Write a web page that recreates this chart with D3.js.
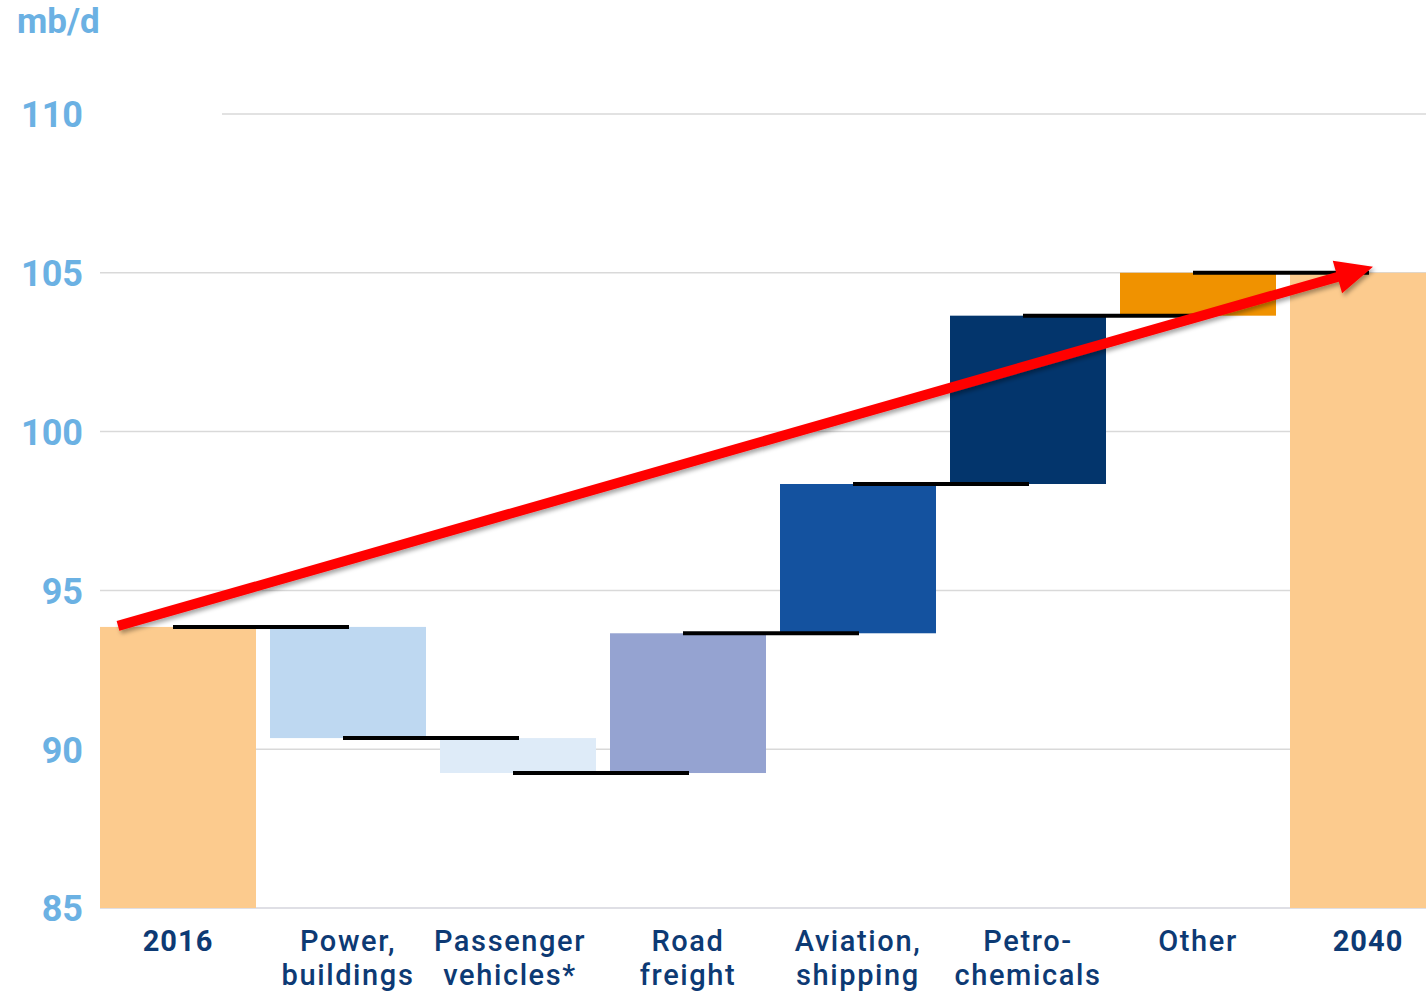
<!DOCTYPE html>
<html>
<head>
<meta charset="utf-8">
<script src="https://cdn.jsdelivr.net/npm/d3@7"></script>
<style>
  html, body { margin: 0; padding: 0; background: #fff; }
  svg { display: block; }
</style>
</head>
<body>
<svg id="chart" width="1426" height="995"></svg>
<script>
// Oil demand change by sector, 2016 -> 2040 (mb/d)
const categories = ["2016", "Power, buildings", "Passenger vehicles*", "Road freight",
                    "Aviation, shipping", "Petro-chemicals", "Other", "2040"];
const labelLines = [["2016"], ["Power,", "buildings"], ["Passenger", "vehicles*"], ["Road", "freight"],
                    ["Aviation,", "shipping"], ["Petro-", "chemicals"], ["Other"], ["2040"]];
const startTotal = 93.85;
const deltas = [-3.5, -1.1, 4.4, 4.7, 5.3, 1.35];
const endTotal = 105.0;
const barColors = ["#FCCB8E", "#BED8F1", "#DEEBF8", "#95A3D1", "#14529F", "#03356C", "#F09200", "#FCCB8E"];
const yTicks = [85, 90, 95, 100, 105, 110];
const unitLabel = "mb/d";

// Build the waterfall segments
const segments = [];
segments.push({ cat: categories[0], y0: 85, y1: startTotal, level: startTotal, color: barColors[0] });
let running = startTotal;
deltas.forEach((d, i) => {
  const next = running + d;
  segments.push({ cat: categories[i + 1], y0: running, y1: next, level: next, color: barColors[i + 1] });
  running = next;
});
segments.push({ cat: categories[7], y0: 85, y1: endTotal, level: endTotal, color: barColors[7] });

const svg = d3.select("#chart");
const W = 1426, H = 995;

const x = d3.scaleBand()
  .domain(categories)
  .range([93, 1453])
  .paddingInner(14 / 170)
  .paddingOuter(7 / 170);

const y = d3.scaleLinear().domain([85, 110]).range([908, 114]);

const labelBlue = "#6BB1E3";
const navy = "#0D3A74";

// Gridlines
const grid = svg.append("g").attr("class", "grid");
grid.selectAll("line")
  .data(yTicks.filter(t => t > 85))
  .join("line")
  .attr("x1", d => d === 110 ? 222 : 100)
  .attr("x2", W)
  .attr("y1", d => y(d))
  .attr("y2", d => y(d))
  .attr("stroke", "#D9D9D9")
  .attr("stroke-width", 1.5);

// Baseline
svg.append("line")
  .attr("x1", 100).attr("x2", W)
  .attr("y1", y(85)).attr("y2", y(85))
  .attr("stroke", "#D4D4DC").attr("stroke-width", 1.5);

// Y axis labels
const yAxis = d3.axisLeft(y).tickValues(yTicks).tickSize(0).tickPadding(0);
const yG = svg.append("g").attr("transform", "translate(83,0)").call(yAxis);
yG.select(".domain").remove();
yG.selectAll("text")
  .attr("fill", labelBlue)
  .attr("font-family", "Roboto, 'DejaVu Sans', sans-serif")
  .attr("font-weight", 700)
  .attr("font-size", 36)
  .attr("dy", "0.36em");

svg.append("text")
  .attr("x", 17).attr("y", 33)
  .attr("fill", labelBlue)
  .attr("font-family", "Roboto, 'DejaVu Sans', sans-serif")
  .attr("font-weight", 700)
  .attr("font-size", 35)
  .text(unitLabel);

// Bars
svg.append("g").selectAll("rect")
  .data(segments)
  .join("rect")
  .attr("x", d => x(d.cat))
  .attr("width", x.bandwidth())
  .attr("y", d => y(Math.max(d.y0, d.y1)))
  .attr("height", d => Math.abs(y(d.y0) - y(d.y1)))
  .attr("fill", d => d.color);

// Connectors between consecutive bars
const connectors = segments.slice(0, -1).map((s, i) => ({
  from: s.cat, to: segments[i + 1].cat, level: s.level
}));
svg.append("g").selectAll("line")
  .data(connectors)
  .join("line")
  .attr("x1", d => x(d.from) + x.bandwidth() / 2 - 5)
  .attr("x2", d => x(d.to) + x.bandwidth() / 2 + 1)
  .attr("y1", d => y(d.level))
  .attr("y2", d => y(d.level))
  .attr("stroke", "#000")
  .attr("stroke-width", 4);

// Trend arrow from the 2016 total to the 2040 total
const defs = svg.append("defs");
const f = defs.append("filter").attr("id", "shadow")
  .attr("x", "-5%").attr("y", "-20%").attr("width", "110%").attr("height", "140%");
f.append("feDropShadow")
  .attr("dx", 2).attr("dy", 3).attr("stdDeviation", 2)
  .attr("flood-color", "#000").attr("flood-opacity", 0.35);

const ax0 = x(categories[0]) + 18, ay0 = y(startTotal) - 1;
const ax1 = x(categories[7]) + x.bandwidth() / 2 + 5, ay1 = y(endTotal) - 6;
const len = Math.hypot(ax1 - ax0, ay1 - ay0);
const ux = (ax1 - ax0) / len, uy = (ay1 - ay0) / len;
const nx = -uy, ny = ux;
const headLen = 37, headHalf = 17, shaftHalf = 5;
const bx = ax1 - ux * headLen, by = ay1 - uy * headLen;
const arrowPts = [
  [ax0 + nx * shaftHalf, ay0 + ny * shaftHalf],
  [bx + nx * shaftHalf, by + ny * shaftHalf],
  [bx + nx * headHalf, by + ny * headHalf],
  [ax1, ay1],
  [bx - nx * headHalf, by - ny * headHalf],
  [bx - nx * shaftHalf, by - ny * shaftHalf],
  [ax0 - nx * shaftHalf, ay0 - ny * shaftHalf]
];
svg.append("path")
  .attr("d", d3.line()(arrowPts) + "Z")
  .attr("fill", "#FF0000")
  .attr("filter", "url(#shadow)");

// Category labels
const lab = svg.append("g").selectAll("text")
  .data(categories)
  .join("text")
  .attr("text-anchor", "middle")
  .attr("fill", navy)
  .attr("font-family", "Roboto, 'DejaVu Sans', sans-serif")
  .attr("font-size", 29)
  .attr("font-weight", (d, i) => (i === 0 || i === 7) ? 700 : 500)
  .attr("letter-spacing", (d, i) => (i === 0 || i === 7) ? 1 : 1.6);
lab.each(function (d, i) {
  const t = d3.select(this);
  // the long "Passenger vehicles*" label sits a little left of its bar
  const shift = i === 2 ? -8 : 0;
  labelLines[i].forEach((line, k) => {
    t.append("tspan")
      .attr("x", x(d) + x.bandwidth() / 2 + shift)
      .attr("y", 951 + k * 34)
      .text(line);
  });
});
</script>
</body>
</html>
